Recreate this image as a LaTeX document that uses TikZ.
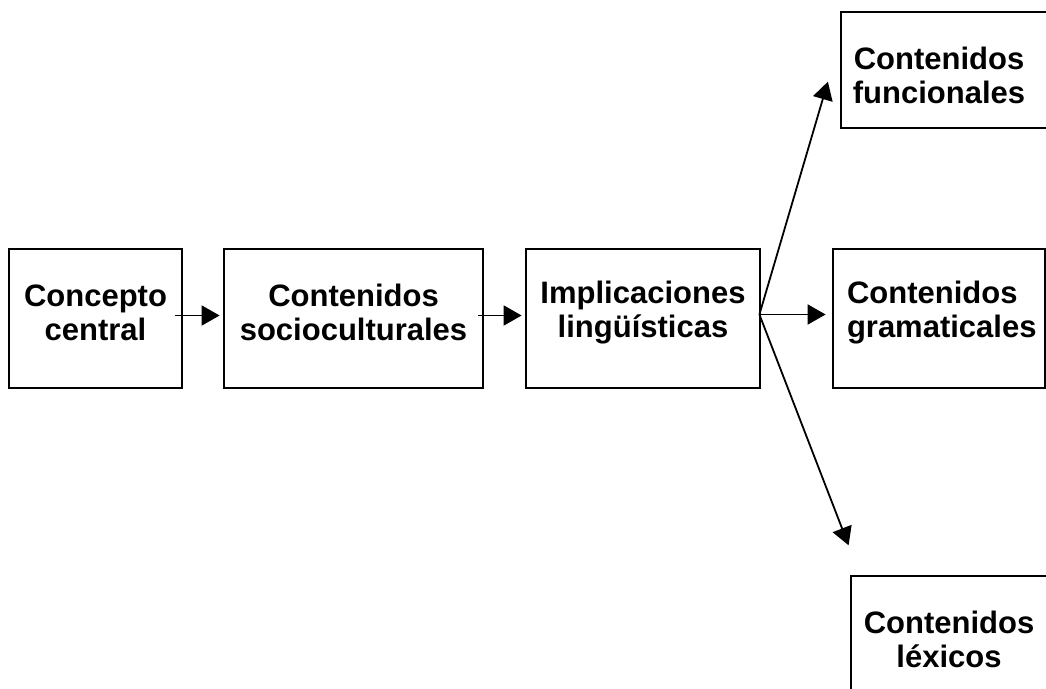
\documentclass[tikz,border=0pt]{standalone}
\usepackage{fontspec}
\setmainfont{Liberation Sans}
\usetikzlibrary{arrows.meta}
\tikzset{box/.style={draw,line width=1.4pt,minimum width=#1,minimum height=69.5pt,inner sep=0pt},
         txt/.style={font=\bfseries\fontsize{15.5pt}{17pt}\selectfont,align=center,inner sep=0pt},
         arr/.style={-{Triangle[length=9pt,width=10pt]},line width=0.9pt},
        }

\begin{document}
\begin{tikzpicture}[x=0.5pt,y=-0.5pt]
        \clip(0,0)rectangle(1046,689);
        \node[box=86.5pt](cc)at(95.5,318.5){};
        \node[box=129.5pt](sc)at(353.5,318.5){};
        \node[box=117pt](il)at(643,318.5){};
        \node[box=106pt](cg)at(939,318.5){};
        \node[box=106pt,minimum height=58pt](cf)at(947,70){};
        \node[box=98pt](cl)at(949,645.5){};

        \node[txt](cc-t)at([yshift=3pt]cc.center){Concepto\\central};
        \node[txt](sc-t)at([yshift=3pt]sc.center){Contenidos\\socioculturales};
        \node[txt](il-t)at([yshift=3pt]il.center){Implicaciones\\lingüísticas};
        \node[txt,align=left,anchor=west](cg-t)at([shift={(7.5pt,3pt)}]cg.west){Contenidos\\gramaticales};
        \node[txt](cf-t)at([shift={(-4pt,-2.5pt)}]cf.center){Contenidos\\funcionales};
        \node[txt](cl-t)at([yshift=3pt]cl.center){Contenidos\\léxicos};

        \coordinate(br)at([shift={(-1pt,2pt)}]il.east);

        \draw[arr]([shift={(-4pt,1.5pt)}]cc.east)--([shift={(-1.5pt,1.5pt)}]sc.west);
        \draw[arr]([shift={(-3pt,1.5pt)}]sc.east)--([shift={(-1.5pt,1.5pt)}]il.west);
        \draw[arr](br)--([shift={(-3pt,2pt)}]cg.west);
        \draw[arr](br)--([shift={(-5.85pt,-5.85pt)}]cf.west);
        \draw[arr](br)--([shift={(-0.5pt,14.65pt)}]cl.north west);
    \end{tikzpicture}
\end{document}
